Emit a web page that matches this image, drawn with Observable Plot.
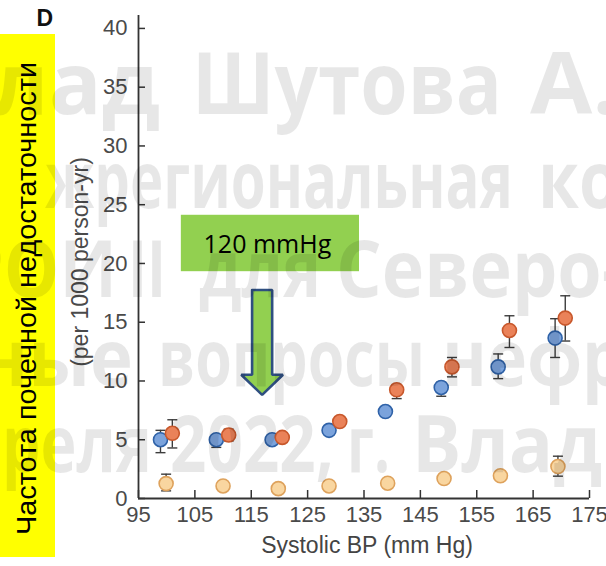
<!DOCTYPE html>
<html><head><meta charset="utf-8">
<script src="https://cdn.jsdelivr.net/npm/d3@7"></script>
<script src="https://cdn.jsdelivr.net/npm/@observablehq/plot@0.6"></script>
<style>
body{margin:0;background:#fff;}
#wrap{position:relative;width:606px;height:566px;overflow:hidden;font-family:"Liberation Sans",Arial,sans-serif;}
#wrap svg{position:absolute;left:0;top:0;}
</style></head><body><div id="wrap"></div>
<script>
// ---- data ----
const bpBlue   = [98.9, 108.8, 118.7, 128.8, 138.8, 148.7, 158.8, 168.9];
const rateBlue = [5.0, 5.0, 5.0, 5.8, 7.4, 9.45, 11.2, 13.65];
const loBlue   = [3.9, 4.35, 4.6, 5.4, 7.0, 8.7, 10.2, 12.0];
const hiBlue   = [5.8, 5.35, 5.4, 6.2, 7.8, 9.9, 12.3, 15.3];

const bpOrange   = [101.0, 111.0, 120.5, 130.7, 140.8, 150.6, 160.8, 170.7];
const rateOrange = [5.55, 5.4, 5.2, 6.55, 9.25, 11.2, 14.3, 15.35];
const loOrange   = [4.3, 4.9, 4.8, 6.2, 8.5, 10.35, 12.85, 13.4];
const hiOrange   = [6.7, 5.9, 5.6, 6.9, 9.7, 12.0, 15.55, 17.25];

const bpPale   = [99.9, 110.0, 119.8, 128.8, 139.2, 149.2, 159.2, 169.4];
const ratePale = [1.27, 1.07, 0.84, 1.07, 1.3, 1.7, 1.93, 2.72];
const loPale   = [0.65, 0.8, 0.6, 0.8, 1.0, 1.35, 1.55, 1.9];
const hiPale   = [2.07, 1.4, 1.1, 1.4, 1.6, 2.05, 2.35, 3.6];

const xTicks = [95, 105, 115, 125, 135, 145, 155, 165, 175];
const yTicks = [0, 5, 10, 15, 20, 25, 30, 35, 40];

const seriesNames = ["blue", "orange", "pale"];
const fills   = {blue: "#7ba3dc", orange: "#ea8259", pale: "#f9d6a0"};
const strokes = {blue: "#2f62a8", orange: "#c8582c", pale: "#dea25c"};

// annotation (data coordinates)
const note  = {label: "120 mmHg", x1: 102.6, x2: 134.2, y1: 19.3, y2: 24.1};
const arrow = {x: 116.93, shaft: 1.78, head: 3.7, top: 17.74, base: 10.53, tip: 8.82};

// ---- build table ----
const rows = [];
[[bpBlue, rateBlue, loBlue, hiBlue], [bpOrange, rateOrange, loOrange, hiOrange], [bpPale, ratePale, loPale, hiPale]]
  .forEach(([bp, rate, lo, hi], s) => bp.forEach((b, i) => rows.push({series: seriesNames[s], bp: b, rate: rate[i], lo: lo[i], hi: hi[i]})));

const arrowPts = [
  {x: arrow.x - arrow.shaft, y: arrow.top}, {x: arrow.x + arrow.shaft, y: arrow.top},
  {x: arrow.x + arrow.shaft, y: arrow.base}, {x: arrow.x + arrow.head, y: arrow.base},
  {x: arrow.x, y: arrow.tip}, {x: arrow.x - arrow.head, y: arrow.base},
  {x: arrow.x - arrow.shaft, y: arrow.base}, {x: arrow.x - arrow.shaft, y: arrow.top}
];

const W = 606, H = 566, mL = 138, mR = 17, mT = 15, mB = 68;
const frameW = W - mL - mR, frameH = H - mT - mB;

const cap = {draw(ctx, size) { const w = Math.sqrt(size / Math.PI); ctx.moveTo(-w, 0); ctx.lineTo(w, 0); }};

const chart = Plot.plot({
  width: W, height: H,
  marginLeft: mL, marginRight: mR, marginTop: mT, marginBottom: mB,
  style: {fontFamily: "'Liberation Sans', Arial, sans-serif", background: "transparent"},
  x: {domain: [95, 175], axis: null},
  y: {domain: [0, 41.1], axis: null},
  color: {type: "identity"},
  marks: [
    Plot.rect([note], {x1: "x1", x2: "x2", y1: "y1", y2: "y2", fill: "#92d050"}),
    Plot.text([note], {x: d => (d.x1 + d.x2) / 2, y: d => (d.y1 + d.y2) / 2, text: "label", dx: -3, dy: 2,
      fontSize: 25, fill: "#000", fontFamily: "'Open Sans', sans-serif"}),
    Plot.line(arrowPts, {x: "x", y: "y", fill: "#92d050", stroke: "#2f4f80", strokeWidth: 2.6, strokeLinejoin: "miter"}),
    Plot.ruleX(rows, {x: "bp", y1: "lo", y2: "hi", stroke: "#3c3c3c", strokeWidth: 1.4}),
    Plot.dot(rows, {x: "bp", y: "lo", symbol: cap, r: 5, fill: "none", stroke: "#3c3c3c", strokeWidth: 1.4}),
    Plot.dot(rows, {x: "bp", y: "hi", symbol: cap, r: 5, fill: "none", stroke: "#3c3c3c", strokeWidth: 1.4}),
    Plot.dot(rows, {x: "bp", y: "rate", r: 7, fill: d => fills[d.series], stroke: d => strokes[d.series], strokeWidth: 1.6}),
    Plot.ruleX([95], {stroke: "#333", strokeWidth: 1.8}),
    Plot.ruleY([0], {stroke: "#333", strokeWidth: 1.8}),
    Plot.tickY(yTicks, {y: d => d, stroke: "#333", strokeWidth: 1.5, insetRight: frameW - 7}),
    Plot.tickX(xTicks, {x: d => d, stroke: "#333", strokeWidth: 1.5, insetTop: frameH - 8}),
    Plot.axisY(yTicks, {tickSize: 0, tickPadding: 11, fontSize: 22, color: "#4a4a4a", label: null}),
    Plot.axisX(xTicks, {tickSize: 0, tickPadding: 8, fontSize: 22, color: "#4a4a4a", label: null}),
    Plot.text(["(per 1000 person-yr)"], {frameAnchor: "left", textAnchor: "middle", rotate: -90, dx: -58, dy: 5,
      fontSize: 23, fill: "#4a4a4a"}),
    Plot.text(["Systolic BP (mm Hg)"], {frameAnchor: "bottom", dy: 54, dx: 3, fontSize: 23, fill: "#444"}),
    Plot.text(["D"], {frameAnchor: "top-left", textAnchor: "start", lineAnchor: "top", dx: -102, dy: -6,
      fontSize: 23, fontWeight: "bold", fill: "#111"})
  ]
});

const wrap = document.getElementById("wrap");
wrap.appendChild(chart);

// overlay: yellow label box and watermark
const ov = d3.create("svg").attr("width", W).attr("height", H).style("pointer-events", "none");
ov.append("rect").attr("x", 0).attr("y", 34).attr("width", 55).attr("height", 523).attr("fill", "#ffff00");
ov.append("text").attr("transform", "translate(27,298.5) rotate(-90)")
  .attr("text-anchor", "middle").attr("dominant-baseline", "central")
  .attr("font-family", "'Liberation Sans', Arial, sans-serif").attr("font-size", 27)
  .attr("textLength", 473).attr("lengthAdjust", "spacingAndGlyphs").attr("fill", "#000")
  .text("Частота почечной недостаточности");

const wm = [
  {t: "лад", x0: -8, x1: 160, y: 114, s: 86},
  {t: "Шутова", x0: 192, x1: 502, y: 114, s: 86},
  {t: "А.", x0: 530, x1: 618, y: 114, s: 86},
  {t: "жрегиональная", x0: 45, x1: 513, y: 208, s: 78},
  {t: "ко", x0: 538, x1: 620, y: 208, s: 78},
  {t: "РОИ", x0: -40, x1: 117, y: 297, s: 78},
  {t: "II", x0: 128, x1: 166, y: 297, s: 78},
  {t: "для", x0: 199, x1: 321, y: 297, s: 78},
  {t: "Северо-", x0: 336, x1: 625, y: 297, s: 78},
  {t: "ные", x0: -20, x1: 133, y: 386, s: 78},
  {t: "вопросы", x0: 158, x1: 425, y: 386, s: 78},
  {t: "нефр", x0: 442, x1: 625, y: 386, s: 78},
  {t: "реля", x0: 2, x1: 152, y: 472, s: 78},
  {t: "2022,", x0: 170, x1: 334, y: 472, s: 78},
  {t: "г.", x0: 347, x1: 390, y: 472, s: 78},
  {t: "Влад", x0: 412, x1: 602, y: 472, s: 78}
];
const g = ov.append("g").attr("fill", "#000").attr("fill-opacity", 0.095)
  .attr("font-family", "'Open Sans', sans-serif").attr("font-weight", 700);
wm.forEach(d => {
  g.append("text").attr("x", d.x0).attr("y", d.y).attr("font-size", d.s)
    .attr("textLength", d.x1 - d.x0).attr("lengthAdjust", "spacingAndGlyphs").text(d.t);
});
wrap.appendChild(ov.node());
</script>
</body></html>
